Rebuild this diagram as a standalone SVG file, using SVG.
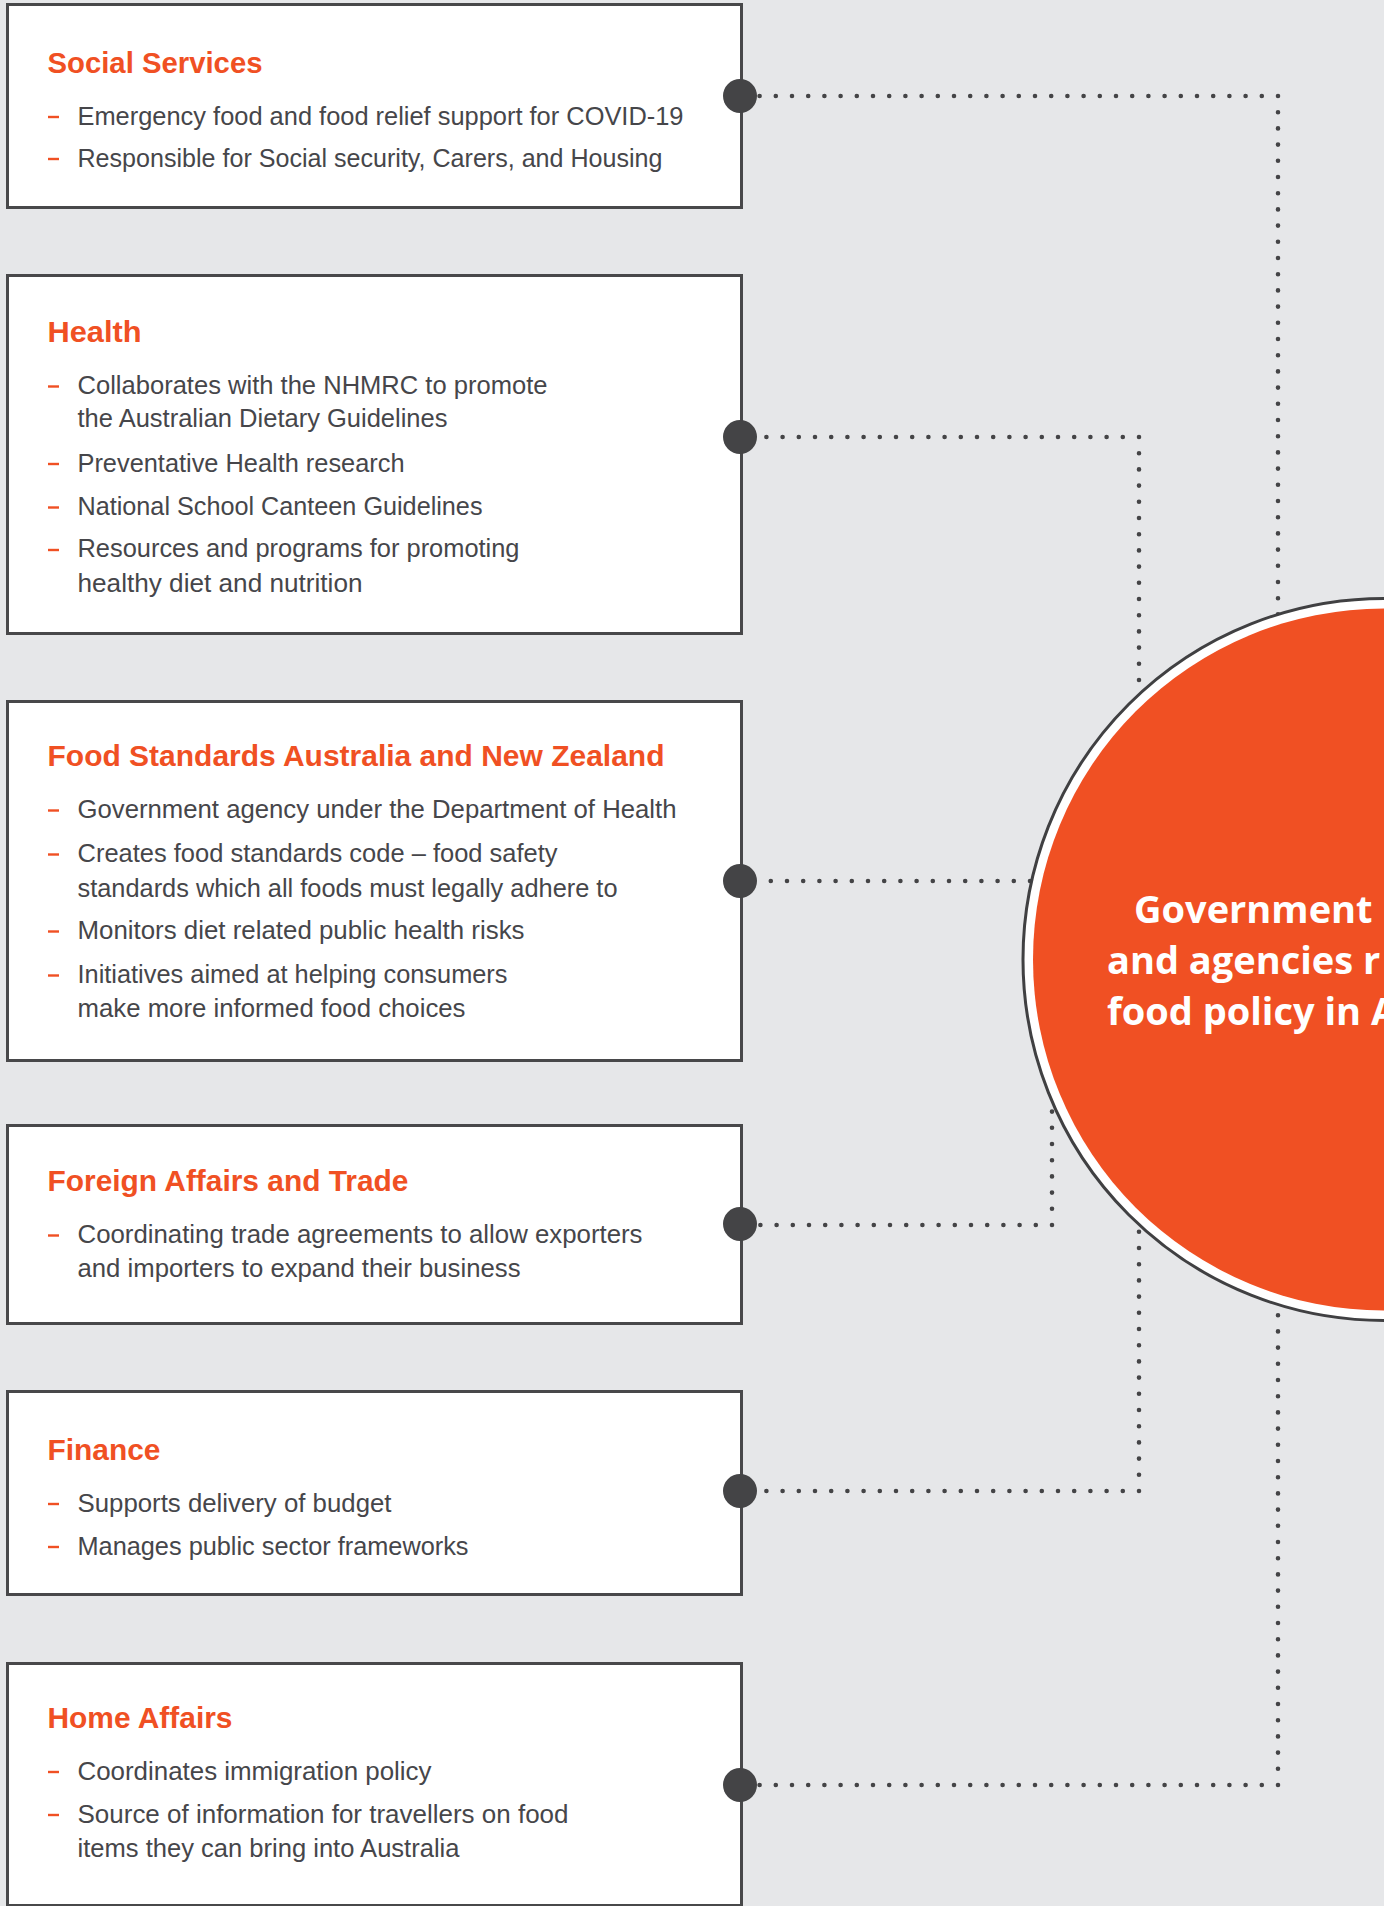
<svg xmlns="http://www.w3.org/2000/svg" width="1384" height="1906" viewBox="0 0 1384 1906">
<style>
.box{fill:#ffffff;stroke:#48484a;stroke-width:3}
.title{font-family:"Liberation Sans",Arial,sans-serif;font-weight:bold;font-size:30px;fill:#f05023}
.item{font-family:"Liberation Sans",Arial,sans-serif;font-size:25px;fill:#46464a}
.dash{stroke:#f05023;stroke-width:2.4}
.pin{fill:#444446}
.dots{fill:none;stroke:#444446;stroke-width:4.6;stroke-linecap:round;stroke-dasharray:0 16.2}
.ctext{font-family:"Open Sans","Liberation Sans",sans-serif;font-weight:bold;font-size:38px;fill:#ffffff}
</style>
<rect x="0" y="0" width="1384" height="1906" fill="#e6e7e9"/>

<g id="connectors">
<path class="dots" d="M1278,96 H757 M1278,96 V620"/>
<path class="dots" d="M1139,437 H757 M1139,437 V690"/>
<path class="dots" d="M1030,881 H757"/>
<path class="dots" d="M1052,1225 H757 M1052,1225 V1100"/>
<path class="dots" d="M1139,1491 H757 M1139,1491 V1225"/>
<path class="dots" d="M1278,1785 H757 M1278,1785 V1310"/>
</g>

<g id="center">
<circle cx="1384" cy="959.5" r="361" fill="#ffffff" stroke="#404042" stroke-width="3"/>
<circle cx="1384" cy="959.5" r="351" fill="#f05023"/>
<text class="ctext" x="1134" y="923">Government</text>
<text class="ctext" x="1107" y="974">and agencies r</text>
<text class="ctext" x="1107" y="1025">food policy in A</text>
</g>

<g id="social-services">
<rect class="box" x="7.5" y="4.5" width="734" height="203"/>
<text class="title" x="47.5" y="72.7" textLength="215" lengthAdjust="spacingAndGlyphs">Social Services</text>
<line class="dash" x1="48" y1="117" x2="59" y2="117"/>
<text class="item" x="77.5" y="125" textLength="606" lengthAdjust="spacingAndGlyphs">Emergency food and food relief support for COVID-19</text>
<line class="dash" x1="48" y1="159" x2="59" y2="159"/>
<text class="item" x="77.5" y="167" textLength="585" lengthAdjust="spacingAndGlyphs">Responsible for Social security, Carers, and Housing</text>
<circle class="pin" cx="740" cy="96" r="17"/>
</g>

<g id="health">
<rect class="box" x="7.5" y="275.5" width="734" height="358"/>
<text class="title" x="47.5" y="341.7" textLength="94" lengthAdjust="spacingAndGlyphs">Health</text>
<line class="dash" x1="48" y1="386.5" x2="59" y2="386.5"/>
<text class="item" x="77.5" y="394" textLength="470" lengthAdjust="spacingAndGlyphs">Collaborates with the NHMRC to promote</text>
<text class="item" x="77.5" y="427" textLength="370" lengthAdjust="spacingAndGlyphs">the Australian Dietary Guidelines</text>
<line class="dash" x1="48" y1="464" x2="59" y2="464"/>
<text class="item" x="77.5" y="471.7" textLength="327" lengthAdjust="spacingAndGlyphs">Preventative Health research</text>
<line class="dash" x1="48" y1="507.5" x2="59" y2="507.5"/>
<text class="item" x="77.5" y="515" textLength="405" lengthAdjust="spacingAndGlyphs">National School Canteen Guidelines</text>
<line class="dash" x1="48" y1="550" x2="59" y2="550"/>
<text class="item" x="77.5" y="557.3" textLength="442" lengthAdjust="spacingAndGlyphs">Resources and programs for promoting</text>
<text class="item" x="77.5" y="591.7" textLength="285" lengthAdjust="spacingAndGlyphs">healthy diet and nutrition</text>
<circle class="pin" cx="740" cy="437" r="17"/>
</g>

<g id="fsanz">
<rect class="box" x="7.5" y="701.5" width="734" height="359"/>
<text class="title" x="47.5" y="766" textLength="617" lengthAdjust="spacingAndGlyphs">Food Standards Australia and New Zealand</text>
<line class="dash" x1="48" y1="810.5" x2="59" y2="810.5"/>
<text class="item" x="77.5" y="818.3" textLength="599" lengthAdjust="spacingAndGlyphs">Government agency under the Department of Health</text>
<line class="dash" x1="48" y1="854.5" x2="59" y2="854.5"/>
<text class="item" x="77.5" y="862.3" textLength="480" lengthAdjust="spacingAndGlyphs">Creates food standards code – food safety</text>
<text class="item" x="77.5" y="896.7" textLength="540" lengthAdjust="spacingAndGlyphs">standards which all foods must legally adhere to</text>
<line class="dash" x1="48" y1="931.5" x2="59" y2="931.5"/>
<text class="item" x="77.5" y="939.3" textLength="447" lengthAdjust="spacingAndGlyphs">Monitors diet related public health risks</text>
<line class="dash" x1="48" y1="975.5" x2="59" y2="975.5"/>
<text class="item" x="77.5" y="983.3" textLength="430" lengthAdjust="spacingAndGlyphs">Initiatives aimed at helping consumers</text>
<text class="item" x="77.5" y="1017.3" textLength="388" lengthAdjust="spacingAndGlyphs">make more informed food choices</text>
<circle class="pin" cx="740" cy="881" r="17"/>
</g>

<g id="foreign-affairs">
<rect class="box" x="7.5" y="1125.5" width="734" height="198"/>
<text class="title" x="47.5" y="1190.7" textLength="361" lengthAdjust="spacingAndGlyphs">Foreign Affairs and Trade</text>
<line class="dash" x1="48" y1="1235.5" x2="59" y2="1235.5"/>
<text class="item" x="77.5" y="1243.3" textLength="565" lengthAdjust="spacingAndGlyphs">Coordinating trade agreements to allow exporters</text>
<text class="item" x="77.5" y="1277.3" textLength="443" lengthAdjust="spacingAndGlyphs">and importers to expand their business</text>
<circle class="pin" cx="740" cy="1224" r="17"/>
</g>

<g id="finance">
<rect class="box" x="7.5" y="1391.5" width="734" height="203"/>
<text class="title" x="47.5" y="1460" textLength="113" lengthAdjust="spacingAndGlyphs">Finance</text>
<line class="dash" x1="48" y1="1504" x2="59" y2="1504"/>
<text class="item" x="77.5" y="1511.7" textLength="314" lengthAdjust="spacingAndGlyphs">Supports delivery of budget</text>
<line class="dash" x1="48" y1="1547" x2="59" y2="1547"/>
<text class="item" x="77.5" y="1555" textLength="391" lengthAdjust="spacingAndGlyphs">Manages public sector frameworks</text>
<circle class="pin" cx="740" cy="1491" r="17"/>
</g>

<g id="home-affairs">
<rect class="box" x="7.5" y="1663.5" width="734" height="242"/>
<text class="title" x="47.5" y="1728" textLength="185" lengthAdjust="spacingAndGlyphs">Home Affairs</text>
<line class="dash" x1="48" y1="1772" x2="59" y2="1772"/>
<text class="item" x="77.5" y="1780" textLength="354" lengthAdjust="spacingAndGlyphs">Coordinates immigration policy</text>
<line class="dash" x1="48" y1="1815" x2="59" y2="1815"/>
<text class="item" x="77.5" y="1822.7" textLength="491" lengthAdjust="spacingAndGlyphs">Source of information for travellers on food</text>
<text class="item" x="77.5" y="1857.3" textLength="382" lengthAdjust="spacingAndGlyphs">items they can bring into Australia</text>
<circle class="pin" cx="740" cy="1785" r="17"/>
</g>
</svg>
